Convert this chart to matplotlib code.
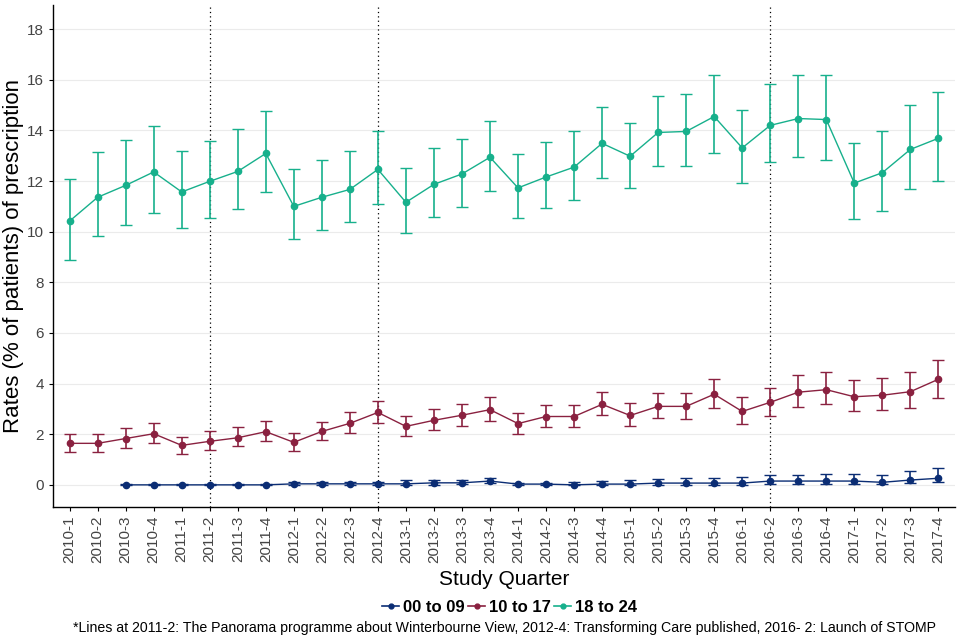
import matplotlib
matplotlib.use("Agg")
import numpy as np
from matplotlib import pyplot as plt
from matplotlib.lines import Line2D

plt.rcParams['font.family'] = ['Liberation Sans', 'DejaVu Sans']

quarters = [f"{y}-{q}" for y in range(2010, 2018) for q in range(1, 5)]

# 00 to 09 starts at 2010-3
g0_val = [0.0, 0.0, 0.0, 0.0, 0.0, 0.0, 0.04, 0.04, 0.04, 0.04, 0.04, 0.08, 0.08, 0.15,
          0.03, 0.03, 0.0, 0.03, 0.03, 0.07, 0.07, 0.07, 0.07, 0.15, 0.15, 0.15, 0.15,
          0.1, 0.19, 0.26]
g0_lo = [0.0, 0.0, 0.0, 0.0, 0.0, 0.0, 0.0, 0.0, 0.0, 0.0, 0.0, 0.01, 0.02, 0.06,
         0.0, 0.0, 0.0, 0.0, 0.0, 0.0, 0.0, 0.0, 0.0, 0.02, 0.03, 0.03, 0.03,
         0.02, 0.06, 0.1]
g0_hi = [0.02, 0.02, 0.02, 0.02, 0.02, 0.02, 0.1, 0.1, 0.1, 0.12, 0.18, 0.2, 0.2, 0.28,
         0.08, 0.08, 0.1, 0.15, 0.18, 0.22, 0.26, 0.26, 0.3, 0.38, 0.38, 0.42, 0.42,
         0.38, 0.54, 0.66]

g1_val = [1.64, 1.64, 1.83, 2.02, 1.56, 1.72, 1.86, 2.1, 1.68, 2.11, 2.43, 2.86, 2.31, 2.55,
          2.75, 2.97, 2.42, 2.7, 2.7, 3.18, 2.74, 3.1, 3.1, 3.58, 2.9, 3.26, 3.66, 3.76,
          3.48, 3.54, 3.68, 4.17]
g1_lo = [1.31, 1.31, 1.47, 1.66, 1.23, 1.37, 1.54, 1.74, 1.35, 1.76, 2.06, 2.43, 1.94, 2.18,
         2.34, 2.53, 2.01, 2.29, 2.29, 2.74, 2.33, 2.65, 2.61, 3.05, 2.42, 2.73, 3.09, 3.18,
         2.9, 2.94, 3.05, 3.44]
g1_hi = [2.02, 2.02, 2.26, 2.46, 1.9, 2.11, 2.3, 2.53, 2.06, 2.5, 2.89, 3.33, 2.73, 3.01,
         3.21, 3.49, 2.85, 3.17, 3.17, 3.68, 3.25, 3.64, 3.64, 4.2, 3.48, 3.84, 4.32, 4.44,
         4.16, 4.24, 4.44, 4.95]

g2_val = [10.42, 11.36, 11.83, 12.36, 11.57, 11.99, 12.38, 13.09, 11.0, 11.36, 11.67, 12.46,
          11.16, 11.87, 12.28, 12.94, 11.73, 12.16, 12.55, 13.49, 12.98, 13.92, 13.96, 14.55,
          13.31, 14.2, 14.47, 14.43, 11.92, 12.33, 13.25, 13.69]
g2_lo = [8.9, 9.82, 10.25, 10.72, 10.13, 10.53, 10.88, 11.55, 9.7, 10.05, 10.37, 11.08,
         9.93, 10.6, 10.96, 11.6, 10.55, 10.94, 11.25, 12.14, 11.73, 12.59, 12.59, 13.1,
         11.92, 12.75, 12.94, 12.82, 10.51, 10.82, 11.69, 12.0]
g2_hi = [12.1, 13.13, 13.64, 14.16, 13.17, 13.6, 14.04, 14.75, 12.46, 12.82, 13.17, 13.96,
         12.5, 13.29, 13.68, 14.39, 13.06, 13.53, 13.97, 14.94, 14.31, 15.37, 15.45, 16.2,
         14.82, 15.85, 16.2, 16.2, 13.49, 13.96, 15.02, 15.53]

groups = ['00 to 09', '10 to 17', '18 to 24']
colors = ['#0b2d74', '#8a2140', '#17b08c']
event_lines = ['2011-2', '2012-4', '2016-2']

fig = plt.figure(figsize=(9.6, 6.4), dpi=100)
ax = fig.add_axes([0.055, 0.208, 0.94, 0.784])

series = [
    (quarters[2:], g0_val, g0_lo, g0_hi),
    (quarters, g1_val, g1_lo, g1_hi),
    (quarters, g2_val, g2_lo, g2_hi),
]
for (qs, v, lo, hi), c in zip(series, colors):
    x = [quarters.index(q) for q in qs]
    v = np.array(v); lo = np.array(lo); hi = np.array(hi)
    ax.errorbar(x, v, yerr=[v - lo, hi - v], color=c, lw=1.0, elinewidth=1.2,
                capsize=4, capthick=1.0, marker='o', markersize=4.5, zorder=3)

for q in event_lines:
    ax.axvline(quarters.index(q), color='black', lw=0.9, ls=(0, (1, 2.5)), zorder=2)

ax.set_xlim(-0.6, len(quarters) - 0.4)
ax.set_ylim(-0.87, 18.95)
ax.set_yticks(range(0, 19, 2))
ax.set_xticks(range(len(quarters)))
ax.set_xticklabels(quarters, rotation=90, fontsize=11, color='#444444')
ax.tick_params(axis='y', labelsize=11, labelcolor='#444444', length=3)
ax.tick_params(axis='x', length=3)
ax.grid(axis='y', color='#ebebeb', lw=0.8, zorder=0)
ax.set_axisbelow(True)
for s in ['top', 'right']:
    ax.spines[s].set_visible(False)
ax.spines['left'].set_linewidth(1.0)
ax.spines['bottom'].set_linewidth(1.0)

ax.set_ylabel('Rates (% of patients) of prescription', fontsize=16, labelpad=2)
ax.set_xlabel('Study Quarter', fontsize=15, labelpad=5)

handles = [Line2D([0], [0], color=c, marker='o', markersize=3.5, lw=1.2) for c in colors]
fig.legend(handles, groups, loc='center', bbox_to_anchor=(0.531, 0.051), ncol=3,
           frameon=False, handlelength=1.0, handletextpad=0.25, columnspacing=0.2,
           prop={'size': 12, 'weight': 'bold'})

fig.text(0.526, 0.019, '*Lines at 2011-2: The Panorama programme about Winterbourne View, '
         '2012-4: Transforming Care published, 2016- 2: Launch of STOMP',
         ha='center', va='center', fontsize=10.2)

fig.savefig('out.png', dpi=100)
